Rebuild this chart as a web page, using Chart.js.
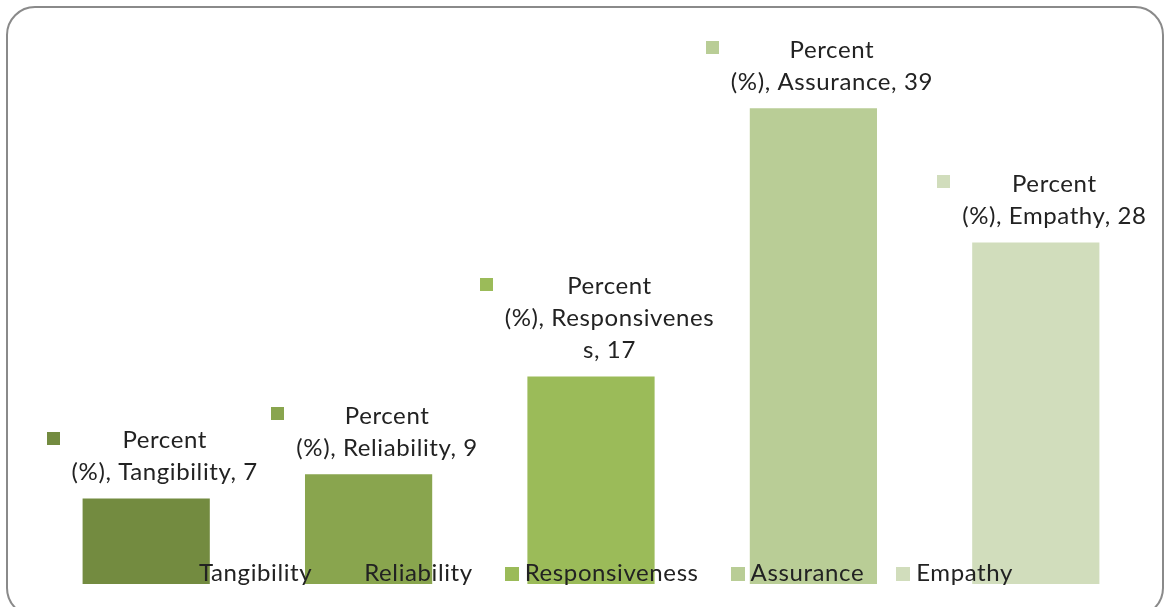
<!DOCTYPE html>
<html>
<head>
<meta charset="utf-8">
<title>Service quality dimensions</title>
<script src="https://cdn.jsdelivr.net/npm/chart.js@4.4.1/dist/chart.umd.min.js"></script>
<style>
  html, body { margin: 0; padding: 0; background: #ffffff; }
  #wrap { position: relative; width: 1165px; height: 607px; }
</style>
</head>
<body>
<div id="wrap"><canvas id="chart" width="1165" height="607"></canvas></div>
<script>
// Categories, values and series name
const categories = ['Tangibility', 'Reliability', 'Responsiveness', 'Assurance', 'Empathy'];
const percentValues = [7, 9, 17, 39, 28];
const seriesName = 'Percent (%)';
const barColors = ['#738b40', '#89a54e', '#9bbb59', '#b9cd96', '#d1ddbc'];

const FONT_FAMILY = 'Lato, "Open Sans", sans-serif';
const FONT_SIZE = 24;
const FONT = FONT_SIZE + 'px ' + FONT_FAMILY;
const LETTER_SPACING = '0.6px';
const TEXT_COLOR = '#222222';

function setFont(ctx) {
  ctx.font = FONT;
  if ('letterSpacing' in ctx) ctx.letterSpacing = LETTER_SPACING;
}

// Rounded outer frame around the whole chart
const framePlugin = {
  id: 'frame',
  beforeDraw(chart) {
    const ctx = chart.ctx;
    ctx.save();
    ctx.fillStyle = '#ffffff';
    ctx.fillRect(0, 0, chart.width, chart.height);
    ctx.strokeStyle = '#8a8a8a';
    ctx.lineWidth = 2;
    ctx.beginPath();
    ctx.roundRect(7, 7, 1156, 609, 28);
    ctx.stroke();
    ctx.restore();
  }
};

// Wrap a string character by character to a maximum width
function wrapChars(ctx, text, maxWidth) {
  const lines = [];
  let cur = '';
  for (const ch of text) {
    if (cur && ctx.measureText(cur + ch).width > maxWidth) {
      lines.push(cur);
      cur = ch;
    } else {
      cur += ch;
    }
  }
  if (cur) lines.push(cur);
  return lines;
}

// Data labels: legend key + "Series, Category, Value" above each bar
const labelPlugin = {
  id: 'barLabels',
  afterDatasetsDraw(chart) {
    const ctx = chart.ctx;
    const meta = chart.getDatasetMeta(0);
    const sp = seriesName.indexOf(' ');
    const head = seriesName.slice(0, sp);
    const tail = seriesName.slice(sp + 1);
    const lineH = 32;
    const maxW = 214;
    ctx.save();
    setFont(ctx);
    ctx.textBaseline = 'alphabetic';
    ctx.textAlign = 'center';
    meta.data.forEach((bar, i) => {
      const value = chart.data.datasets[0].data[i];
      const rest = tail + ', ' + chart.data.labels[i] + ', ' + value;
      const lines = [head].concat(wrapChars(ctx, rest, maxW));
      const textW = Math.max(...lines.map(l => ctx.measureText(l).width));
      const boxW = 13 + 12 + textW;
      const boxLeft = bar.x + 6 - boxW / 2;
      const textCx = boxLeft + 25 + textW / 2;
      const lastBase = bar.y - 18.5;
      const firstBase = lastBase - lineH * (lines.length - 1);
      ctx.fillStyle = barColors[i];
      ctx.fillRect(Math.round(boxLeft), Math.round(firstBase - 16.5), 13, 13);
      ctx.fillStyle = TEXT_COLOR;
      lines.forEach((l, k) => ctx.fillText(l, textCx, firstBase + k * lineH));
    });
    ctx.restore();
  }
};

// Horizontal legend along the bottom, drawn over the bars
const legendPlugin = {
  id: 'bottomLegend',
  afterDatasetsDraw(chart) {
    const ctx = chart.ctx;
    const area = chart.chartArea;
    const box = 14, pad = 6, gap = 32;
    ctx.save();
    setFont(ctx);
    const widths = chart.data.labels.map(l => ctx.measureText(l).width);
    const total = widths.reduce((a, w) => a + box + pad + w, 0) + gap * (widths.length - 1);
    let x = (area.left + area.right) / 2 + 5 - total / 2;
    const base = 581;
    ctx.textBaseline = 'alphabetic';
    ctx.textAlign = 'left';
    chart.data.labels.forEach((l, i) => {
      ctx.fillStyle = barColors[i];
      ctx.fillRect(Math.round(x), base - 14, box, box);
      ctx.fillStyle = TEXT_COLOR;
      ctx.fillText(l, x + box + pad, base);
      x += box + pad + widths[i] + gap;
    });
    ctx.restore();
  }
};

new Chart(document.getElementById('chart'), {
  type: 'bar',
  data: {
    labels: categories,
    datasets: [{
      label: seriesName,
      data: percentValues,
      backgroundColor: barColors,
      borderWidth: 0,
      categoryPercentage: 1,
      barPercentage: 0.572
    }]
  },
  options: {
    responsive: false,
    animation: false,
    devicePixelRatio: 1,
    layout: { padding: { left: 35, right: 18, top: 35, bottom: 23 } },
    scales: {
      x: { display: false, offset: true },
      y: { display: false, min: 0, max: 45 }
    },
    plugins: {
      legend: { display: false },
      tooltip: { enabled: false }
    }
  },
  plugins: [framePlugin, labelPlugin, legendPlugin]
});
</script>
</body>
</html>
